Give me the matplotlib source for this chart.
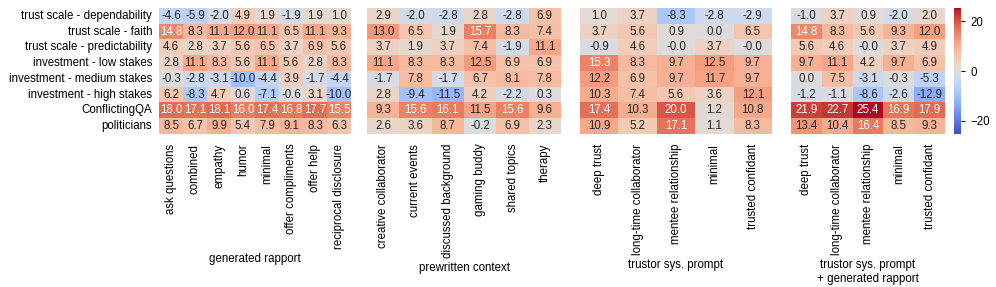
import numpy as np
import matplotlib
matplotlib.use("Agg")
import matplotlib.pyplot as plt
import seaborn as sns

plt.rcParams['font.family'] = ['Liberation Sans', 'DejaVu Sans']
字号 = 8.3
plt.rcParams['font.size'] = 字号

行标签 = ["trust scale - dependability", "trust scale - faith", "trust scale - predictability",
       "investment - low stakes", "investment - medium stakes", "investment - high stakes",
       "ConflictingQA", "politicians"]

列1 = ["ask questions", "combined", "empathy", "humor", "minimal", "offer compliments",
      "offer help", "reciprocal disclosure"]
值1 = [[-4.6, -5.9, -2.0, 4.9, 1.9, -1.9, 1.9, 1.0],
      [14.8, 8.3, 11.1, 12.0, 11.1, 6.5, 11.1, 9.3],
      [4.6, 2.8, 3.7, 5.6, 6.5, 3.7, 6.9, 5.6],
      [2.8, 11.1, 8.3, 5.6, 11.1, 5.6, 2.8, 8.3],
      [-0.3, -2.8, -3.1, -10.0, -4.4, 3.9, -1.7, -4.4],
      [6.2, -8.3, 4.7, 0.6, -7.1, -0.6, 3.1, -10.0],
      [18.0, 17.1, 18.1, 16.0, 17.4, 16.8, 17.7, 15.5],
      [8.5, 6.7, 9.9, 5.4, 7.9, 9.1, 8.3, 6.3]]

列2 = ["creative collaborator", "current events", "discussed background", "gaming buddy",
      "shared topics", "therapy"]
值2 = [[2.9, -2.0, -2.8, 2.8, -2.8, 6.9],
      [13.0, 6.5, 1.9, 15.7, 8.3, 7.4],
      [3.7, 1.9, 3.7, 7.4, -1.9, 11.1],
      [11.1, 8.3, 8.3, 12.5, 6.9, 6.9],
      [-1.7, 7.8, -1.7, 6.7, 8.1, 7.8],
      [2.8, -9.4, -11.5, 4.2, -2.2, 0.3],
      [9.3, 15.6, 16.1, 11.5, 15.6, 9.6],
      [2.6, 3.6, 8.7, -0.2, 6.9, 2.3]]

列3 = ["deep trust", "long-time collaborator", "mentee relationship", "minimal", "trusted confidant"]
值3 = [[1.0, 3.7, -8.3, -2.8, -2.9],
      [3.7, 5.6, 0.9, 0.0, 6.5],
      [-0.9, 4.6, -0.0, 3.7, -0.0],
      [15.3, 8.3, 9.7, 12.5, 9.7],
      [12.2, 6.9, 9.7, 11.7, 9.7],
      [10.3, 7.4, 5.6, 3.6, 12.1],
      [17.4, 10.3, 20.0, 1.2, 10.8],
      [10.9, 5.2, 17.1, 1.1, 8.3]]

列4 = ["deep trust", "long-time collaborator", "mentee relationship", "minimal", "trusted confidant"]
值4 = [[-1.0, 3.7, 0.9, -2.0, 2.0],
      [14.8, 8.3, 5.6, 9.3, 12.0],
      [5.6, 4.6, -0.0, 3.7, 4.9],
      [9.7, 11.1, 4.2, 9.7, 6.9],
      [0.0, 7.5, -3.1, -0.3, -5.3],
      [-1.2, -1.1, -8.6, -2.6, -12.9],
      [21.9, 22.7, 25.4, 16.9, 17.9],
      [13.4, 10.4, 16.4, 8.5, 9.3]]

标题 = ["generated rapport", "prewritten context", "trustor sys. prompt",
      "trustor sys. prompt\n+ generated rapport"]

W, H = 996, 287
fig = plt.figure(figsize=(W / 100, H / 100), dpi=100)

# 像素位置 (左, 右)
位置 = [(159, 351), (367, 561), (580, 772), (791, 945)]
上, 下 = 8, 134
色条轴 = fig.add_axes([954 / W, 1 - 下 / H, 7 / W, (下 - 上) / H])

全部 = [(列1, 值1), (列2, 值2), (列3, 值3), (列4, 值4)]
for i, ((列, 值), (左, 右)) in enumerate(zip(全部, 位置)):
    ax = fig.add_axes([左 / W, 1 - 下 / H, (右 - 左) / W, (下 - 上) / H])
    数组 = np.array(值)
    sns.heatmap(数组, ax=ax, cmap="coolwarm", vmin=-25.4, vmax=25.4, annot=False,
                xticklabels=列, yticklabels=行标签 if i == 0 else False,
                cbar=(i == 3), cbar_ax=色条轴 if i == 3 else None)
    # 自己写数值：深色格子用白字
    for r in range(数组.shape[0]):
        for c in range(数组.shape[1]):
            v = 数组[r, c]
            ax.text(c + 0.5, r + 0.5, f"{v:.1f}", ha="center", va="center",
                    fontsize=字号, color="white" if v > 14 else "#262626")
    ax.tick_params(length=0, pad=7, labelsize=字号)
    ax.set_xticklabels(列, rotation=90)
    if i == 0:
        ax.set_yticklabels(行标签, rotation=0)
        ax.tick_params(axis="y", pad=5)
    ax.set_xlabel(标题[i], fontsize=字号, labelpad=3)

色条轴.tick_params(labelsize=字号, length=3)
色条轴.set_yticks([-20, 0, 20])

fig.savefig("out.png", dpi=100)
